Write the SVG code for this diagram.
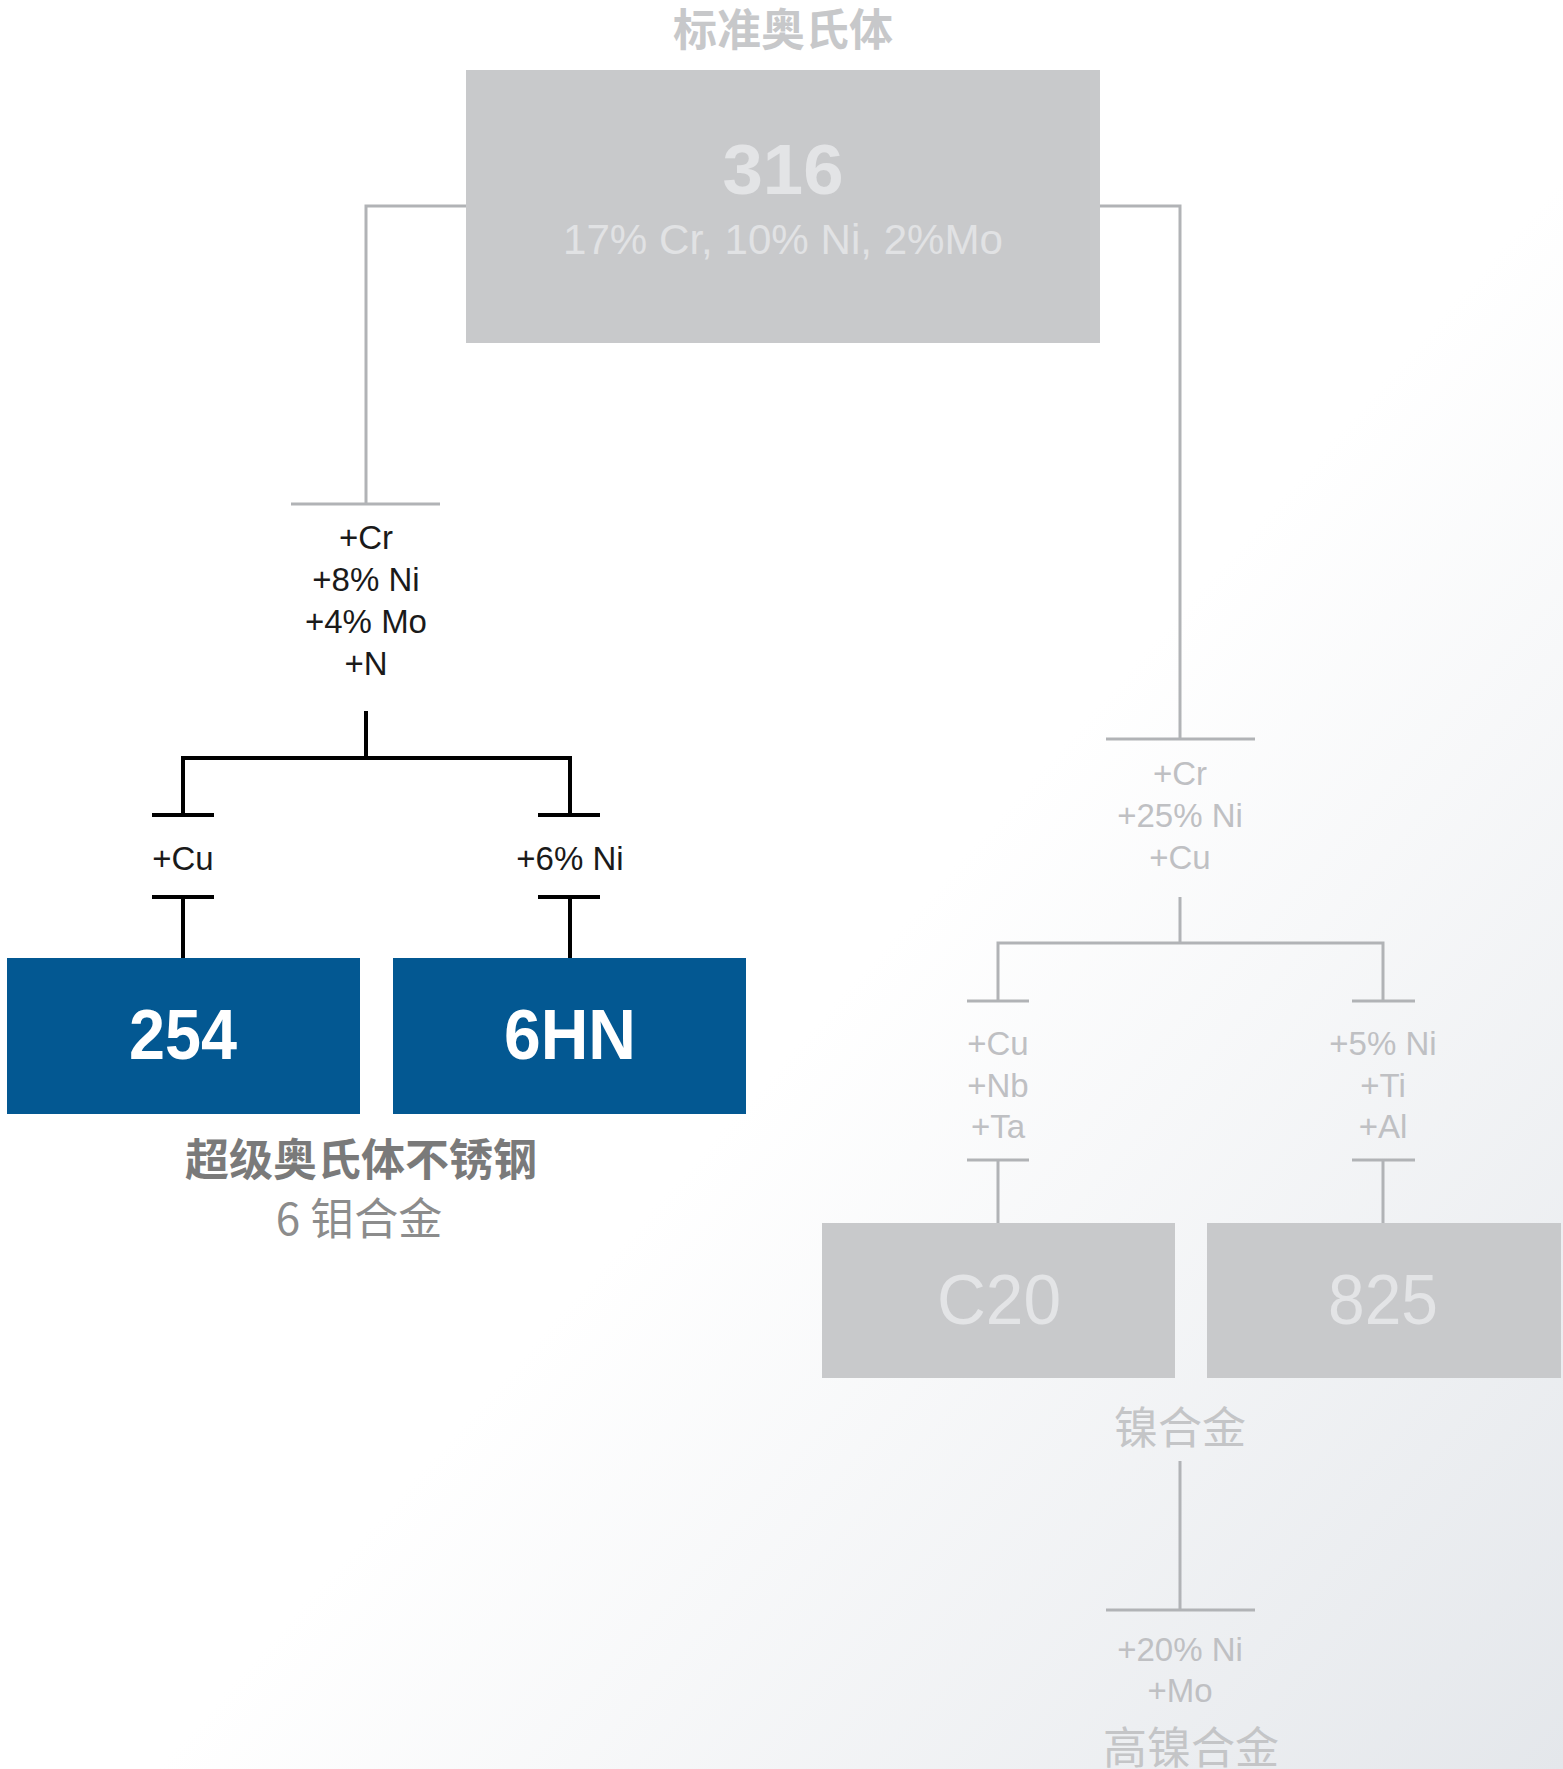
<svg xmlns="http://www.w3.org/2000/svg" width="1563" height="1769" viewBox="0 0 1563 1769">
<defs>
<linearGradient id="bg" x1="0" y1="0" x2="1" y2="1">
<stop offset="0" stop-color="#ffffff"/>
<stop offset="0.55" stop-color="#ffffff"/>
<stop offset="1" stop-color="#e4e7eb"/>
</linearGradient>
<style>
.lbl{font-family:"Liberation Sans","Helvetica Neue",Arial,sans-serif;font-size:33px;text-anchor:middle}
.dk{fill:#1a1a1a}
.lt{fill:#bfc0c3}
.cjk{font-family:"Noto Sans CJK SC","Liberation Sans",sans-serif;font-size:44px;text-anchor:middle}
.big{font-family:"Liberation Sans",Arial,sans-serif;font-size:70px;text-anchor:middle}
.gbox{fill:#c8c9cb}
.bbox{fill:#035892}
.gl{fill:none;stroke:#b1b3b6;stroke-width:3}
.bl{fill:none;stroke:#000000;stroke-width:4}
</style>
</defs>
<rect x="0" y="0" width="1563" height="1769" fill="url(#bg)"/>

<g id="connectors">
<polyline class="gl" points="466,206 366,206 366,504"/>
<line class="gl" x1="291" y1="504" x2="440" y2="504"/>
<polyline class="gl" points="1100,206 1180,206 1180,739"/>
<line class="gl" x1="1106" y1="739" x2="1255" y2="739"/>
<line class="bl" x1="366" y1="711" x2="366" y2="758"/>
<polyline class="bl" points="183,815 183,758 570,758 570,815"/>
<line class="bl" x1="152" y1="815" x2="214" y2="815"/>
<line class="bl" x1="538" y1="815" x2="600" y2="815"/>
<line class="bl" x1="152" y1="897" x2="214" y2="897"/>
<line class="bl" x1="538" y1="897" x2="600" y2="897"/>
<line class="bl" x1="183" y1="897" x2="183" y2="958"/>
<line class="bl" x1="570" y1="897" x2="570" y2="958"/>
<line class="gl" x1="1180" y1="897" x2="1180" y2="943"/>
<polyline class="gl" points="998,1001 998,943 1383,943 1383,1001"/>
<line class="gl" x1="967" y1="1001" x2="1029" y2="1001"/>
<line class="gl" x1="1352" y1="1001" x2="1415" y2="1001"/>
<line class="gl" x1="967" y1="1160" x2="1029" y2="1160"/>
<line class="gl" x1="1352" y1="1160" x2="1415" y2="1160"/>
<line class="gl" x1="998" y1="1160" x2="998" y2="1223"/>
<line class="gl" x1="1383" y1="1160" x2="1383" y2="1223"/>
<line class="gl" x1="1180" y1="1461" x2="1180" y2="1610"/>
<line class="gl" x1="1106" y1="1610" x2="1255" y2="1610"/>
</g>

<g id="title">
<text class="cjk" x="783" y="46" font-weight="bold" fill="#c7c8ca">标准奥氏体</text>
</g>

<g id="node-316">
<rect class="gbox" x="466" y="70" width="634" height="273"/>
<text class="big" x="783" y="194" font-weight="bold" fill="#e3e4e6" font-size="74" textLength="121" lengthAdjust="spacingAndGlyphs">316</text>
<text x="783" y="254" font-family="Liberation Sans, Arial, sans-serif" font-size="42" text-anchor="middle" fill="#e1e2e4" textLength="440" lengthAdjust="spacingAndGlyphs">17% Cr, 10% Ni, 2%Mo</text>
</g>

<g id="label-left">
<text class="lbl dk" x="366" y="549">+Cr</text>
<text class="lbl dk" x="366" y="591">+8% Ni</text>
<text class="lbl dk" x="366" y="633">+4% Mo</text>
<text class="lbl dk" x="366" y="675">+N</text>
</g>

<g id="label-cu">
<text class="lbl dk" x="183" y="870">+Cu</text>
</g>
<g id="label-6ni">
<text class="lbl dk" x="570" y="870">+6% Ni</text>
</g>

<g id="node-254">
<rect class="bbox" x="7" y="958" width="353" height="156"/>
<text class="big" x="183" y="1059" font-weight="bold" fill="#ffffff" textLength="108" lengthAdjust="spacingAndGlyphs">254</text>
</g>
<g id="node-6hn">
<rect class="bbox" x="393" y="958" width="353" height="156"/>
<text class="big" x="570" y="1059" font-weight="bold" fill="#ffffff" textLength="132" lengthAdjust="spacingAndGlyphs">6HN</text>
</g>

<g id="caption-super">
<text class="cjk" x="361" y="1176" font-weight="bold" fill="#7a7a7a">超级奥氏体不锈钢</text>
<text class="cjk" x="359" y="1235" fill="#8c8c8c">6 钼合金</text>
</g>

<g id="label-right">
<text class="lbl lt" x="1180" y="785">+Cr</text>
<text class="lbl lt" x="1180" y="827">+25% Ni</text>
<text class="lbl lt" x="1180" y="869">+Cu</text>
</g>

<g id="label-c20">
<text class="lbl lt" x="998" y="1055">+Cu</text>
<text class="lbl lt" x="998" y="1097">+Nb</text>
<text class="lbl lt" x="998" y="1138">+Ta</text>
</g>
<g id="label-825">
<text class="lbl lt" x="1383" y="1055">+5% Ni</text>
<text class="lbl lt" x="1383" y="1097">+Ti</text>
<text class="lbl lt" x="1383" y="1138">+Al</text>
</g>

<g id="node-c20">
<rect class="gbox" x="822" y="1223" width="353" height="155"/>
<text class="big" x="999" y="1324" fill="#e3e4e6" textLength="124" lengthAdjust="spacingAndGlyphs">C20</text>
</g>
<g id="node-825">
<rect class="gbox" x="1207" y="1223" width="354" height="155"/>
<text class="big" x="1383" y="1324" fill="#e3e4e6" textLength="110" lengthAdjust="spacingAndGlyphs">825</text>
</g>

<g id="caption-nickel">
<text class="cjk" x="1180" y="1444" fill="#c4c5c7">镍合金</text>
</g>

<g id="label-bottom">
<text class="lbl lt" x="1180" y="1661">+20% Ni</text>
<text class="lbl lt" x="1180" y="1702">+Mo</text>
</g>

<g id="caption-high-nickel">
<text class="cjk" x="1191" y="1764" fill="#c4c5c7">高镍合金</text>
</g>
</svg>
